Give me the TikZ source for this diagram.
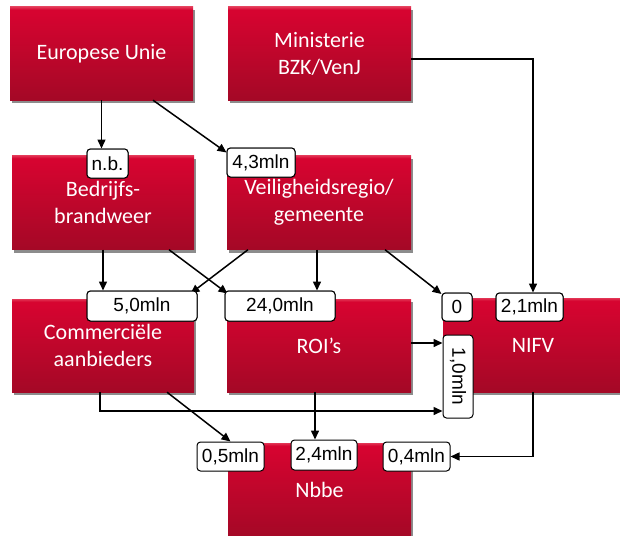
\documentclass[tikz,border=0pt]{standalone}
\usepackage{fontspec}
\usepackage{graphicx}
\setmainfont{Carlito}
\newfontfamily\lblfont{Liberation Sans}
\usetikzlibrary{arrows.meta,shadows,calc}
\definecolor{rLight}{RGB}{226,52,84}
\definecolor{rTop}{RGB}{214,4,48}
\definecolor{rBot}{RGB}{164,8,38}
\pgfdeclareverticalshading{redbox}{100bp}{color(0bp)=(rBot); color(25bp)=(rBot); color(72bp)=(rTop); color(73.5bp)=(rTop); color(75bp)=(rLight); color(100bp)=(rLight)}
\tikzset{
  box/.style={shading=redbox, draw=none, text=white, align=center,
    font=\fontsize{22}{27}\selectfont, inner sep=0pt,
    drop shadow={shadow xshift=2pt, shadow yshift=-3pt, opacity=0.45, fill=black}},
  lbl/.style={draw=black, line width=1pt, fill=white, rounded corners=3.5pt,
    inner sep=0pt, text=black, font=\lblfont\fontsize{19}{22}\selectfont},
  arr/.style={line width=1.5pt, draw=black, -{Triangle[length=9pt,width=8pt]}}
}
\begin{document}
\begin{tikzpicture}[x=1pt,y=-1pt]
\useasboundingbox (0,0) rectangle (620,535);
% boxes
\node[box, minimum width=183pt, minimum height=93pt] (eu) at (101.5,53.5) {Europese Unie};
\node[box, minimum width=183pt, minimum height=93pt] (min) at (319.5,53.5) {Ministerie\\BZK/VenJ};
\node[box, minimum width=182pt, minimum height=94pt] (bb) at (103,202.5) {Bedrijfs-\\brandweer};
\node[box, minimum width=184pt, minimum height=94pt] (vr) at (319,202.5) {Veiligheidsregio/\\gemeente};
\node[box, minimum width=182pt, minimum height=93pt] (ca) at (103,345.5) {Commerciële\\aanbieders};
\node[box, minimum width=184pt, minimum height=93pt] (roi) at (319,345.5) {ROI’s};
\node[box, minimum width=180pt, minimum height=94pt] (nifv) at (533,345) {NIFV};
\node[box, minimum width=183pt, minimum height=94pt] (nbbe) at (319.5,490) {Nbbe};
% labels
\node[lbl, minimum width=41pt, minimum height=29pt] (nb) at (107.5,163.5) {n.b.};
\node[lbl, minimum width=68pt, minimum height=29pt] (l43) at (261,162.5) {4,3mln};
\node[lbl, minimum width=110pt, minimum height=30pt] (l50) at (142,306) {5,0mln};
\node[lbl, minimum width=110pt, minimum height=30pt] (l240) at (280,306) {24,0mln};
\node[lbl, minimum width=30pt, minimum height=28pt] (l0) at (457,307) {0};
\node[lbl, minimum width=67pt, minimum height=28pt] (l21) at (529.5,307) {2,1mln};
\node[lbl, minimum width=30pt, minimum height=83pt] (l10) at (458,376.5) {\rotatebox{-90}{1,0mln}};
\node[lbl, minimum width=67pt, minimum height=29pt] (l05) at (230.5,456.5) {0,5mln};
\node[lbl, minimum width=66pt, minimum height=30pt] (l24) at (324,455) {2,4mln};
\node[lbl, minimum width=67pt, minimum height=29pt] (l04) at (416.5,456.5) {0,4mln};
% connectors
\draw[arr] (eu.south) -- (eu.south |- nb.north);
\draw[arr] ([xshift=51.5pt]eu.south) -- ([yshift=-5pt]l43.north west);
\draw[arr] ([yshift=-5.5pt]min.east) -| (nifv.north |- l21.north);
\draw[arr] (bb.south) -- (bb.south |- l50.north);
\draw[arr] ([xshift=66pt]bb.south) -- ([xshift=3pt,yshift=-3pt]l240.north west);
\draw[arr] ([xshift=-71pt]vr.south) -- ([xshift=-7pt,yshift=-3pt]l50.north east);
\draw[arr] ([xshift=-2pt]vr.south) -- ([xshift=-2pt]vr.south |- l240.north);
\draw[arr] ([xshift=66pt]vr.south) -- ([yshift=-1.5pt]l0.north west);
\draw[arr] ([yshift=2.5pt]roi.east) -- ([yshift=2.5pt]roi.east -| l10.west);
\draw[arr] ([xshift=-3pt]ca.south) |- ([yshift=-34.5pt]l10.west);
\draw[arr] ([xshift=64pt]ca.south) -- (l05.north);
\draw[arr] ([xshift=-4pt]roi.south) -- ([xshift=-4pt]roi.south |- l24.north);
\draw[arr] (nifv.south) |- (l04.east);
% redraw labels on top
\node[lbl, minimum width=41pt, minimum height=29pt] at (nb) {n.b.};
\node[lbl, minimum width=68pt, minimum height=29pt] at (l43) {4,3mln};
\node[lbl, minimum width=110pt, minimum height=30pt] at (l50) {5,0mln};
\node[lbl, minimum width=110pt, minimum height=30pt] at (l240) {24,0mln};
\node[lbl, minimum width=30pt, minimum height=28pt] at (l0) {0};
\node[lbl, minimum width=67pt, minimum height=28pt] at (l21) {2,1mln};
\end{tikzpicture}
\end{document}
